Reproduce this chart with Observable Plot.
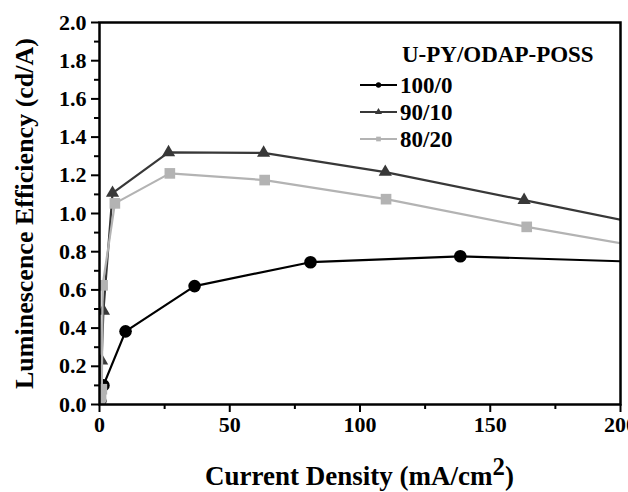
<!DOCTYPE html>
<html>
<head>
<meta charset="utf-8">
<script src="https://cdn.jsdelivr.net/npm/d3@7"></script>
<script src="https://cdn.jsdelivr.net/npm/@observablehq/plot@0.6"></script>
<style>
  body { margin: 0; background: white; }
  #wrap { position: relative; width: 628px; height: 492px; font-family: "Liberation Serif", "Times New Roman", serif; font-weight: bold; }
  #xlabel { position: absolute; left: 99px; width: 521px; top: 460px; text-align: center; font-size: 27px; line-height: 32px; }
  #xlabel sup { font-size: 0.92em; vertical-align: 0.42em; line-height: 0; }
  #legend { position: absolute; left: 350px; top: 30px; }
</style>
</head>
<body>
<div id="wrap"></div>
<script>
// Series data (x: current density mA/cm², y: luminescence efficiency cd/A)
const seriesNames = ["100/0", "90/10", "80/20"];
const x100 = [0.3, 1.5, 10, 36.5, 81, 138.5, 240];
const y100 = [0.02, 0.10, 0.383, 0.62, 0.745, 0.776, 0.733];
const x90 = [0.3, 0.8, 1.5, 5, 26.5, 63, 109.7, 163, 230];
const y90 = [0.035, 0.23, 0.49, 1.107, 1.32, 1.317, 1.217, 1.07, 0.885];
const x80 = [0.3, 0.6, 0.9, 1.2, 5.9, 27, 63.4, 110, 164, 230];
const y80 = [0.01, 0.04, 0.08, 0.624, 1.053, 1.21, 1.175, 1.075, 0.93, 0.774];
const xTicks = [0, 50, 100, 150, 200];
const xMinor = [25, 75, 125, 175];
const yTicks = [0, 0.2, 0.4, 0.6, 0.8, 1.0, 1.2, 1.4, 1.6, 1.8, 2.0];
const yMinor = [0.1, 0.3, 0.5, 0.7, 0.9, 1.1, 1.3, 1.5, 1.7, 1.9];
const legendTitle = "U-PY/ODAP-POSS";
const yLabel = "Luminescence Efficiency (cd/A)";

const colors = {"100/0": "#000000", "90/10": "#383838", "80/20": "#b3b3b3"};
const symbols = {"100/0": "circle", "90/10": "triangle", "80/20": "square"};
const radii = {"100/0": 6.3, "90/10": 4.9, "80/20": 6.0};

const toRows = (name, xs, ys) => xs.map((x, i) => ({series: name, x, y: ys[i]}));
const rows = {
  "100/0": toRows("100/0", x100, y100),
  "90/10": toRows("90/10", x90, y90),
  "80/20": toRows("80/20", x80, y80)
};

const seriesMarks = seriesNames.flatMap(name => [
  Plot.line(rows[name], {x: "x", y: "y", stroke: colors[name], strokeWidth: 2.2, clip: true}),
  Plot.dot(rows[name], {x: "x", y: "y", symbol: symbols[name], r: radii[name], fill: colors[name], stroke: "none", clip: true})
]);

const chart = Plot.plot({
  width: 628,
  height: 448,
  marginLeft: 99,
  marginRight: 8,
  marginTop: 22,
  marginBottom: 44,
  x: {domain: [0, 200]},
  y: {domain: [0, 2]},
  style: {fontFamily: '"Liberation Serif", "Times New Roman", serif', fontWeight: "bold", background: "white", color: "black", overflow: "visible"},
  marks: [
    Plot.axisY({ticks: yTicks, tickFormat: d3.format(".1f"), tickSize: 8, tickPadding: 5, fontSize: 22, strokeWidth: 2, label: null}),
    Plot.axisY({ticks: yMinor, tickSize: 5, tickFormat: () => "", strokeWidth: 2, label: null}),
    Plot.axisX({ticks: xTicks, tickFormat: d3.format("d"), tickSize: 8, tickPadding: 4, fontSize: 22, strokeWidth: 2, label: null}),
    Plot.axisX({ticks: xMinor, tickSize: 5, tickFormat: () => "", strokeWidth: 2, label: null}),
    Plot.text([yLabel], {frameAnchor: "left", textAnchor: "middle", dx: -75, rotate: -90, fontSize: 26, fill: "black"}),
    ...seriesMarks,
    Plot.frame({stroke: "black", strokeWidth: 2.5})
  ]
});

const wrap = document.getElementById("wrap");
wrap.appendChild(chart);

// x-axis label with superscript
const xl = document.createElement("div");
xl.id = "xlabel";
xl.innerHTML = "Current Density (mA/cm<sup>2</sup>)";
wrap.appendChild(xl);

// legend
const lg = d3.select(wrap).append("svg").attr("id", "legend").attr("width", 270).attr("height", 130)
  .style("font-family", '"Liberation Serif", "Times New Roman", serif').style("font-weight", "bold");
lg.append("text").attr("x", 52).attr("y", 32).attr("font-size", 23).text(legendTitle);
seriesNames.forEach((name, i) => {
  const cy = 55 + i * 27;
  lg.append("line").attr("x1", 10).attr("x2", 47).attr("y1", cy).attr("y2", cy).attr("stroke", colors[name]).attr("stroke-width", 2);
  lg.append("path").attr("transform", `translate(28.5,${cy})`)
    .attr("d", d3.symbol(symbols[name] === "circle" ? d3.symbolCircle : symbols[name] === "triangle" ? d3.symbolTriangle : d3.symbolSquare, 22)())
    .attr("fill", colors[name]);
  lg.append("text").attr("x", 50).attr("y", cy + 8).attr("font-size", 23).text(name);
});
</script>
</body>
</html>
